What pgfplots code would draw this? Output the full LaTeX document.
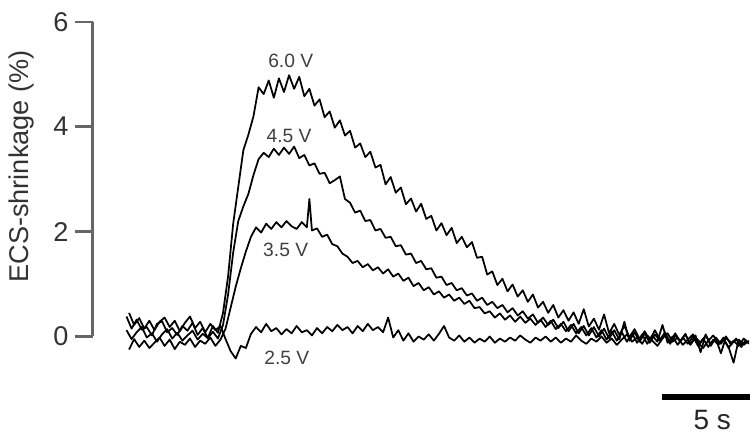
\documentclass[border=0pt]{standalone}
\usepackage{fontspec}
\setmainfont{Liberation Sans}
\usepackage{pgfplots}
\pgfplotsset{compat=1.18}

\begin{document}
\begin{tikzpicture}[trace/.style={black, line width=1.0pt, line join=round, mark=none}]
\begin{axis}[
    scale only axis,
    width=13.2cm, height=6.32cm,
    xmin=-2.0, xmax=36.82,
    ymin=0, ymax=6,
    clip=false,
    axis x line=none,
    axis y line*=left,
    ytick={0,2,4,6},
    ytick align=outside,
    major tick length=0.36cm,
    y axis line style={black!60, line width=1.3pt},
    ytick style={black!60, line width=1.3pt},
    yticklabel style={font=\fontsize{15.5}{18}\selectfont, text=black!80},
    /pgf/number format/assume math mode=true,
]

% fixes the page to the reference frame
\path (axis cs:-7.47,-1.879) rectangle (axis cs:36.82,6.414);

% 6.0 V
\addplot[trace] coordinates {
(0.0,0.38)(0.3,0.15)(0.6,0.32)(0.9,0.13)(1.2,0.18)(1.5,0.02)(1.8,0.24)(2.1,0.29)(2.4,0.08)(2.7,0.16)
(3.0,0.03)(3.3,0.20)(3.6,0.11)(3.9,0.26)(4.2,0.03)(4.5,0.16)(4.8,-0.03)(5.1,0.20)(5.4,0.07)(5.7,0.45)
(6.0,1.15)(6.3,2.15)(6.6,2.85)(6.9,3.55)(7.2,3.85)(7.5,4.20)(7.8,4.75)(8.1,4.62)(8.4,4.88)(8.7,4.55)
(9.0,4.92)(9.3,4.66)(9.6,4.98)(9.9,4.72)(10.2,4.95)(10.5,4.58)(10.8,4.72)(11.1,4.40)(11.4,4.52)(11.7,4.18)
(12.0,4.29)(12.3,3.98)(12.6,4.12)(12.9,3.83)(13.2,3.92)(13.5,3.60)(13.8,3.68)(14.1,3.42)(14.4,3.52)(14.7,3.22)
(15.0,3.27)(15.3,2.90)(15.6,3.04)(15.9,2.74)(16.2,2.84)(16.5,2.52)(16.8,2.63)(17.1,2.38)(17.4,2.53)(17.7,2.24)
(18.0,2.30)(18.3,2.02)(18.6,2.16)(18.9,1.93)(19.2,2.07)(19.5,1.78)(19.8,1.90)(20.1,1.70)(20.4,1.80)(20.7,1.50)
(21.0,1.52)(21.3,1.18)(21.6,1.24)(21.9,0.98)(22.2,1.10)(22.5,0.86)(22.8,0.99)(23.1,0.76)(23.4,0.88)(23.7,0.66)
(24.0,0.80)(24.3,0.55)(24.6,0.66)(24.9,0.45)(25.2,0.60)(25.5,0.36)(25.8,0.50)(26.1,0.30)(26.4,0.46)(26.7,0.24)
(27.0,0.52)(27.3,0.19)(27.6,0.34)(27.9,0.13)(28.2,0.42)(28.5,0.06)(28.8,0.24)(29.1,0.03)(29.4,0.20)(29.7,-0.02)
(30.0,0.14)(30.3,-0.05)(30.6,0.10)(30.9,-0.08)(31.2,0.12)(31.5,-0.06)(31.8,0.08)(32.1,-0.12)(32.4,0.06)(32.7,-0.10)
(33.0,0.05)(33.3,-0.15)(33.6,0.02)(33.9,-0.30)(34.2,0.04)(34.5,-0.18)(34.8,-0.02)(35.1,-0.14)(35.4,0.00)(35.7,-0.16)
(36.0,-0.04)(36.3,-0.20)(36.6,-0.06)
};

% 4.5 V
\addplot[trace] coordinates {
(0.0,0.12)(0.3,-0.05)(0.6,0.08)(0.9,0.18)(1.2,-0.02)(1.5,0.06)(1.8,-0.10)(2.1,0.04)(2.4,0.14)(2.7,-0.04)
(3.0,0.07)(3.3,-0.08)(3.6,0.02)(3.9,0.11)(4.2,-0.06)(4.5,0.05)(4.8,-0.03)(5.1,0.09)(5.4,-0.04)(5.7,0.22)
(6.0,0.80)(6.3,1.60)(6.6,2.20)(6.9,2.48)(7.2,2.72)(7.5,3.08)(7.8,3.38)(8.1,3.50)(8.4,3.42)(8.7,3.58)
(9.0,3.46)(9.3,3.60)(9.6,3.48)(9.9,3.62)(10.2,3.40)(10.5,3.46)(10.8,3.26)(11.1,3.30)(11.4,3.10)(11.7,3.12)
(12.0,2.92)(12.3,2.98)(12.6,3.05)(12.9,2.62)(13.2,2.55)(13.5,2.36)(13.8,2.40)(14.1,2.20)(14.4,2.22)(14.7,2.02)
(15.0,2.05)(15.3,1.88)(15.6,1.90)(15.9,1.72)(16.2,1.74)(16.5,1.56)(16.8,1.58)(17.1,1.40)(17.4,1.44)(17.7,1.28)
(18.0,1.30)(18.3,1.12)(18.6,1.14)(18.9,0.98)(19.2,1.02)(19.5,0.88)(19.8,0.92)(20.1,0.78)(20.4,0.82)(20.7,0.68)
(21.0,0.74)(21.3,0.60)(21.6,0.66)(21.9,0.54)(22.2,0.60)(22.5,0.46)(22.8,0.54)(23.1,0.40)(23.4,0.48)(23.7,0.34)
(24.0,0.42)(24.3,0.26)(24.6,0.36)(24.9,0.22)(25.2,0.32)(25.5,0.16)(25.8,0.28)(26.1,0.10)(26.4,0.24)(26.7,0.06)
(27.0,0.20)(27.3,0.02)(27.6,0.18)(27.9,0.00)(28.2,0.15)(28.5,-0.04)(28.8,0.12)(29.1,-0.06)(29.4,0.28)(29.7,-0.08)
(30.0,0.08)(30.3,-0.10)(30.6,0.06)(30.9,-0.12)(31.2,0.04)(31.5,-0.08)(31.8,0.06)(32.1,-0.14)(32.4,0.02)(32.7,-0.10)
(33.0,0.04)(33.3,-0.16)(33.6,-0.02)(33.9,-0.12)(34.2,0.02)(34.5,-0.14)(34.8,-0.04)(35.1,-0.32)(35.4,-0.02)(35.7,-0.12)
(36.0,-0.06)(36.3,-0.16)(36.6,-0.08)
};

% 3.5 V
\addplot[trace] coordinates {
(0.15,-0.25)(0.45,-0.05)(0.75,-0.20)(1.05,-0.08)(1.35,-0.22)(1.65,-0.12)(1.95,-0.02)(2.25,-0.18)(2.55,-0.06)(2.85,-0.24)
(3.15,-0.10)(3.45,-0.16)(3.75,-0.04)(4.05,-0.20)(4.35,-0.08)(4.65,-0.14)(4.95,-0.02)(5.25,-0.18)(5.55,-0.06)(5.85,0.15)
(6.15,0.55)(6.45,0.95)(6.75,1.30)(7.05,1.62)(7.35,1.90)(7.65,2.08)(7.95,1.98)(8.25,2.15)(8.55,2.05)(8.85,2.18)
(9.15,2.08)(9.45,2.20)(9.75,2.10)(10.05,2.05)(10.35,2.18)(10.65,2.08)(10.8,2.62)(10.95,2.02)(11.25,2.06)(11.55,1.90)
(11.85,1.94)(12.15,1.76)(12.45,1.72)(12.75,1.58)(13.05,1.52)(13.35,1.40)(13.65,1.44)(13.95,1.32)(14.25,1.38)(14.55,1.26)
(14.85,1.32)(15.15,1.20)(15.45,1.28)(15.75,1.14)(16.05,1.20)(16.35,1.06)(16.65,1.12)(16.95,0.96)(17.25,1.02)(17.55,0.88)
(17.85,0.94)(18.15,0.80)(18.45,0.86)(18.75,0.74)(19.05,0.80)(19.35,0.68)(19.65,0.74)(19.95,0.62)(20.25,0.68)(20.55,0.54)
(20.85,0.56)(21.15,0.44)(21.45,0.48)(21.75,0.36)(22.05,0.44)(22.35,0.32)(22.65,0.40)(22.95,0.28)(23.25,0.38)(23.55,0.26)
(23.85,0.34)(24.15,0.22)(24.45,0.32)(24.75,0.18)(25.05,0.30)(25.35,0.14)(25.65,0.24)(25.95,0.10)(26.25,0.22)(26.55,0.06)
(26.85,0.18)(27.15,0.02)(27.45,0.16)(27.75,-0.02)(28.05,0.12)(28.35,-0.06)(28.65,0.10)(28.95,-0.08)(29.25,0.08)(29.55,-0.10)
(29.85,0.06)(30.15,-0.12)(30.45,0.04)(30.75,-0.14)(31.05,0.02)(31.35,-0.10)(31.65,0.22)(31.95,-0.12)(32.25,0.00)(32.55,-0.16)
(32.85,-0.02)(33.15,-0.14)(33.45,0.00)(33.75,-0.18)(34.05,-0.04)(34.35,-0.20)(34.65,-0.06)(34.95,-0.16)(35.25,-0.02)(35.55,-0.22)
(35.85,-0.08)(36.15,-0.18)(36.45,-0.04)(36.75,-0.14)
};

% 2.5 V
\addplot[trace] coordinates {
(0.15,0.45)(0.45,0.22)(0.75,0.35)(1.05,0.15)(1.35,0.30)(1.65,0.12)(1.95,0.28)(2.25,0.36)(2.55,0.18)(2.85,0.30)
(3.15,0.10)(3.45,0.26)(3.75,0.38)(4.05,0.16)(4.35,0.28)(4.65,0.08)(4.95,0.24)(5.25,0.12)(5.55,0.20)(5.85,-0.05)
(6.15,-0.28)(6.45,-0.42)(6.75,-0.18)(7.05,-0.22)(7.35,0.05)(7.65,0.18)(7.95,0.08)(8.25,0.24)(8.55,0.10)(8.85,0.16)
(9.15,0.04)(9.45,0.14)(9.75,0.06)(10.05,0.20)(10.35,0.08)(10.65,0.12)(10.95,0.02)(11.25,0.16)(11.55,0.06)(11.85,0.18)
(12.15,0.10)(12.45,0.22)(12.75,0.12)(13.05,0.18)(13.35,0.06)(13.65,0.20)(13.95,0.10)(14.25,0.24)(14.55,0.12)(14.85,0.18)
(15.15,0.08)(15.45,0.36)(15.75,-0.02)(16.05,0.12)(16.35,-0.08)(16.65,0.06)(16.95,-0.10)(17.25,0.00)(17.55,-0.06)(17.85,0.04)
(18.15,-0.08)(18.45,0.05)(18.75,0.20)(19.05,-0.02)(19.35,-0.08)(19.65,0.02)(19.95,-0.10)(20.25,-0.02)(20.55,-0.12)(20.85,-0.04)
(21.15,-0.10)(21.45,0.00)(21.75,-0.12)(22.05,-0.04)(22.35,-0.10)(22.65,-0.02)(22.95,-0.08)(23.25,0.02)(23.55,-0.06)(23.85,-0.12)
(24.15,-0.02)(24.45,-0.08)(24.75,0.00)(25.05,-0.10)(25.35,-0.02)(25.65,-0.12)(25.95,-0.04)(26.25,-0.10)(26.55,0.02)(26.85,-0.08)
(27.15,-0.14)(27.45,-0.04)(27.75,-0.10)(28.05,0.00)(28.35,-0.12)(28.65,-0.04)(28.95,-0.16)(29.25,-0.06)(29.55,0.04)(29.85,-0.10)
(30.15,-0.02)(30.45,-0.14)(30.75,0.02)(31.05,-0.08)(31.35,-0.18)(31.65,-0.04)(31.95,0.06)(32.25,-0.10)(32.55,-0.02)(32.85,-0.16)
(33.15,-0.06)(33.45,0.04)(33.75,-0.12)(34.05,-0.22)(34.35,-0.08)(34.65,0.02)(34.95,-0.14)(35.25,-0.06)(35.55,-0.20)(35.85,-0.50)
(36.15,-0.06)(36.45,-0.16)(36.75,-0.08)
};

% trace labels
\node[font=\fontsize{11}{13}\selectfont, text=black!75] at (axis cs:9.7,5.25) {6.0 V};
\node[font=\fontsize{11}{13}\selectfont, text=black!75] at (axis cs:9.6,3.83) {4.5 V};
\node[font=\fontsize{11}{13}\selectfont, text=black!75] at (axis cs:9.4,1.66) {3.5 V};
\node[font=\fontsize{11}{13}\selectfont, text=black!75] at (axis cs:9.47,-0.41) {2.5 V};

% y label
\node[rotate=90, font=\fontsize{15.5}{18}\selectfont, text=black!80]
    at (axis cs:-6.18,3.24) {ECS-shrinkage (\%)};

% time scale bar
\draw[black, line width=3.4pt] (axis cs:31.65,-1.16) -- (axis cs:36.82,-1.16);
\node[font=\fontsize{16}{19}\selectfont, text=black!85] at (axis cs:34.59,-1.6) {5 s};

\end{axis}
\end{tikzpicture}
\end{document}
